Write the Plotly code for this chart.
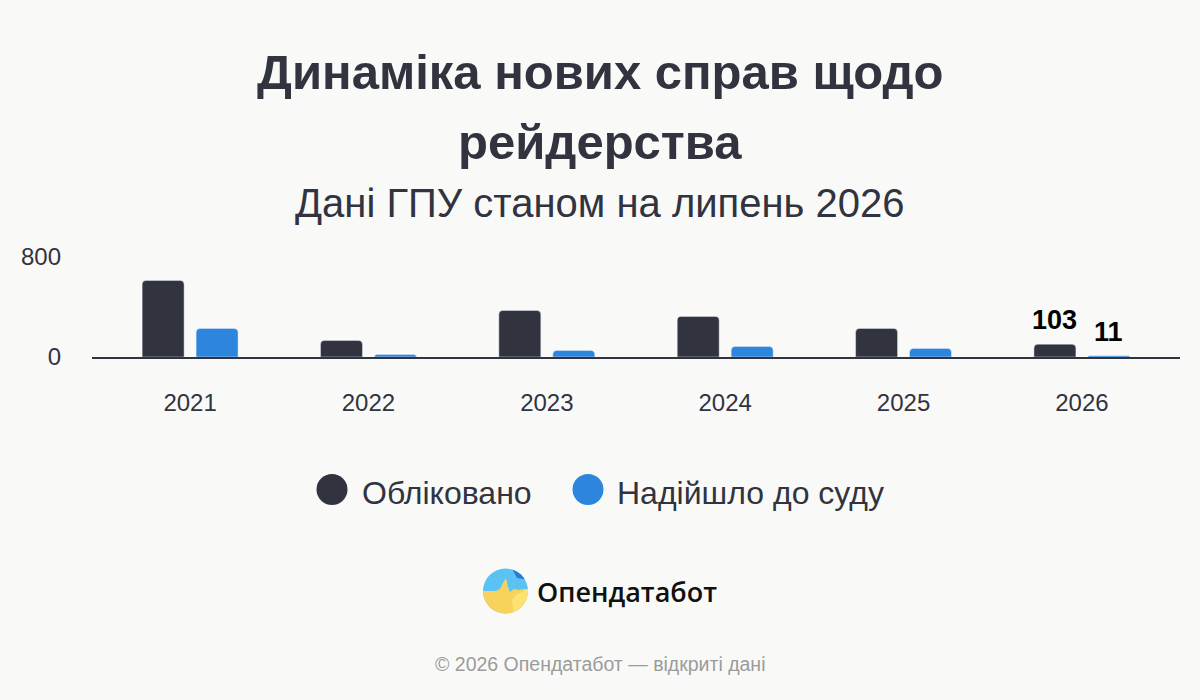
import numpy as np
import plotly.graph_objects as go

# ---- data ----
years = ["2021", "2022", "2023", "2024", "2025", "2026"]
registered = [613, 133, 373, 325, 229, 103]
to_court = [229, 21, 53, 85, 69, 11]
series_names = ["Обліковано", "Надійшло до суду"]
y_ticks = [0, 800]
labelled_year = "2026"

title_lines = ["Динаміка нових справ щодо", "рейдерства"]
subtitle = "Дані ГПУ станом на липень 2026"
brand = "Опендатабот"
footer = "© 2026 Опендатабот — відкриті дані"

# ---- style ----
DARK = "#31333f"
BLUE = "#2d85dd"
BG = "#f9faf8"
FONT = "Liberation Sans, Arial, sans-serif"

W, H = 1200, 700
ML, MR, MT, MB = 92, 20, 257, 343
PW, PH = W - ML - MR, H - MT - MB


def px(x):
    return (x - ML) / PW


def py(y):
    return (H - MB - y) / PH


fig = go.Figure()
fig.add_trace(go.Bar(x=years, y=registered, name=series_names[0],
                     marker_color=DARK, showlegend=False, hoverinfo="skip"))
fig.add_trace(go.Bar(x=years, y=to_court, name=series_names[1],
                     marker_color=BLUE, showlegend=False, hoverinfo="skip"))

annotations = []
shapes = []

# value labels for the last year
idx = years.index(labelled_year)
for vals, shift in ((registered, -27), (to_court, 27)):
    annotations.append(dict(x=idx, y=vals[idx], xref="x", yref="y",
                            text=str(vals[idx]), showarrow=False,
                            xshift=shift, yanchor="bottom", yshift=7,
                            font=dict(family=FONT, size=27, color="#000000", weight="bold")))

# titles
annotations.append(dict(x=px(600), y=py(71.5), xref="paper", yref="paper", text=title_lines[0],
                        showarrow=False, xanchor="center", yanchor="middle",
                        font=dict(family=FONT, size=49, color=DARK, weight="bold")))
annotations.append(dict(x=px(600), y=py(141.5), xref="paper", yref="paper", text=title_lines[1],
                        showarrow=False, xanchor="center", yanchor="middle",
                        font=dict(family=FONT, size=49, color=DARK, weight="bold")))
annotations.append(dict(x=px(600), y=py(203), xref="paper", yref="paper", text=subtitle,
                        showarrow=False, xanchor="center", yanchor="middle",
                        font=dict(family=FONT, size=40, color=DARK)))

# custom legend
legend_items = [(series_names[0], DARK, 332, 360), (series_names[1], BLUE, 588, 615)]
for name, col, cx, tx in legend_items:
    r = 15.5
    shapes.append(dict(type="circle", xref="paper", yref="paper",
                       x0=px(cx - r), x1=px(cx + r), y0=py(489.5 + r), y1=py(489.5 - r),
                       fillcolor=col, line=dict(width=0)))
    annotations.append(dict(x=px(tx), y=py(492.5), xref="paper", yref="paper", text=name,
                            showarrow=False, xanchor="left", yanchor="middle",
                            font=dict(family=FONT, size=32, color=DARK)))

# logo
lcx, lcy, lr = 505.5, 591, 22.5
shapes.append(dict(type="circle", xref="paper", yref="paper",
                   x0=px(lcx - lr), x1=px(lcx + lr), y0=py(lcy + lr), y1=py(lcy - lr),
                   fillcolor="#5bc3f3", line=dict(width=0)))


def path_from(points):
    return "M " + " L ".join(f"{px(a):.5f},{py(b):.5f}" for a, b in points) + " Z"


# yellow lower part
horizon = [(496, 591), (500, 589), (503, 583), (506, 578), (508, 587), (510, 592),
           (514, 589), (519, 590), (524, 589)]
ang_r = np.arcsin((589 - lcy) / lr)
ang_l = np.pi - np.arcsin((591 - lcy) / lr)
lp = (lcx + lr * np.cos(ang_l), lcy + lr * np.sin(ang_l))
rp = (lcx + lr * np.cos(ang_r), lcy + lr * np.sin(ang_r))
arc = [(lcx + lr * np.cos(t), lcy + lr * np.sin(t)) for t in np.linspace(ang_r, ang_l, 40)]
poly = [lp] + horizon + [rp] + arc
shapes.append(dict(type="path", xref="paper", yref="paper", path=path_from(poly),
                   fillcolor="#f8d35b", line=dict(width=0)))
# lighter lower-right patch
arc2 = [(lcx + lr * np.cos(t), lcy + lr * np.sin(t)) for t in np.linspace(-0.1, 1.2, 20)]
poly2 = [(512, 600), (516, 595)] + arc2
shapes.append(dict(type="path", xref="paper", yref="paper", path=path_from(poly2),
                   fillcolor="#fbe271", line=dict(width=0)))
# dark blue top-right blob
arc3 = [(lcx + lr * np.cos(t), lcy + lr * np.sin(t)) for t in np.linspace(-1.25, -0.55, 15)]
poly3 = arc3 + [(517, 578)]
shapes.append(dict(type="path", xref="paper", yref="paper", path=path_from(poly3),
                   fillcolor="#2a7bd3", line=dict(width=0)))

annotations.append(dict(x=px(535), y=py(591), xref="paper", yref="paper", text=brand,
                        showarrow=False, xanchor="left", yanchor="middle",
                        font=dict(family="Open Sans, Noto Sans, sans-serif", size=27,
                                  color="#111111", weight=600)))

annotations.append(dict(x=px(600), y=py(664), xref="paper", yref="paper", text=footer,
                        showarrow=False, xanchor="center", yanchor="middle",
                        font=dict(family=FONT, size=19.5, color="#9b9b9b")))

fig.update_layout(
    width=W, height=H,
    margin=dict(l=ML, r=MR, t=MT, b=MB, autoexpand=False),
    paper_bgcolor=BG, plot_bgcolor=BG,
    barmode="group", bargap=0.395, bargroupgap=0.222, barcornerradius=4,
    showlegend=False,
    annotations=annotations, shapes=shapes,
    font=dict(family=FONT, color=DARK),
)
fig.update_xaxes(type="category", range=[-0.55, 5.55], showline=True, linecolor=DARK,
                 linewidth=2, ticks="", showgrid=False, ticklabelstandoff=23,
                 layer="above traces",
                 tickfont=dict(family=FONT, size=24, color=DARK), fixedrange=True)
fig.update_yaxes(range=[0, 800], tickvals=y_ticks, showgrid=False, zeroline=False,
                 showline=False, ticks="", ticklabelstandoff=30,
                 tickfont=dict(family=FONT, size=24, color=DARK), fixedrange=True)

fig.write_html("out.html", config={"displayModeBar": False},
               post_script="document.body.style.margin='0';document.body.style.padding='0';"
                           "document.body.style.background='" + BG + "';")
